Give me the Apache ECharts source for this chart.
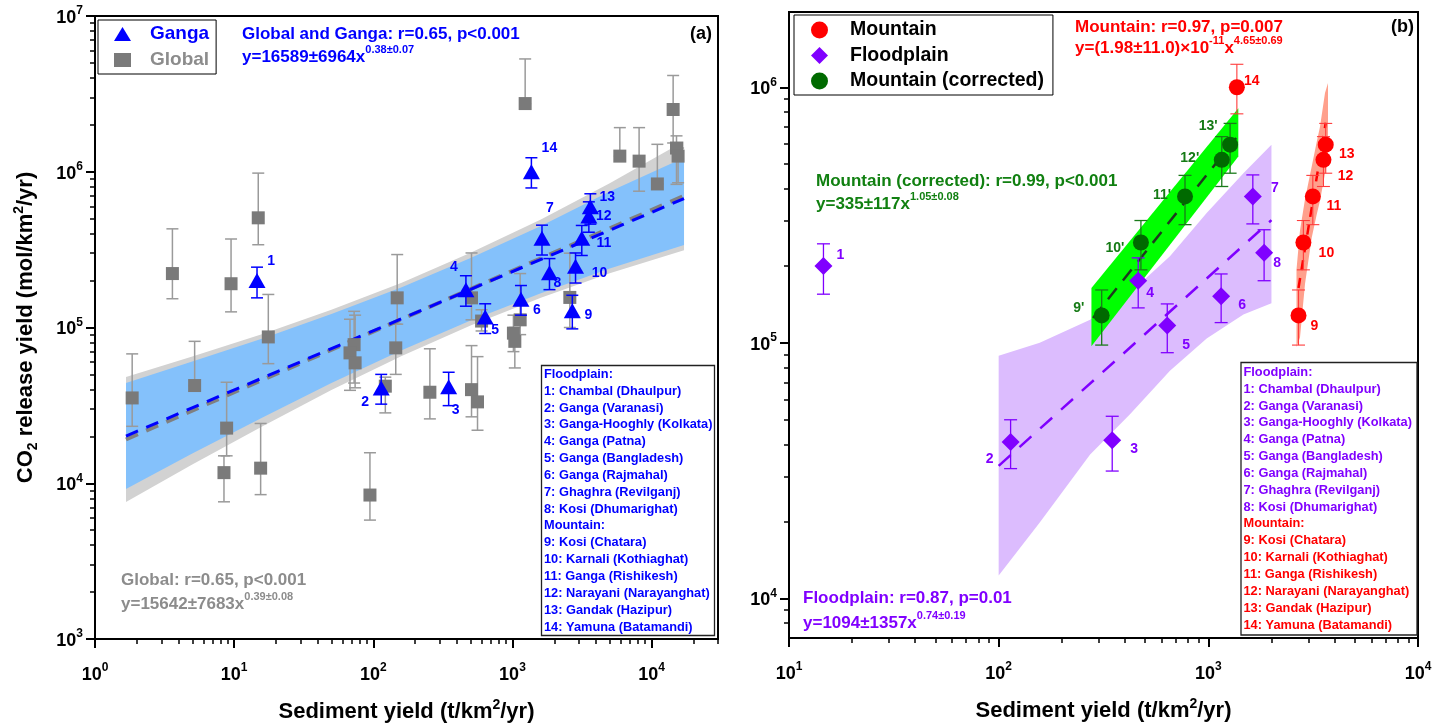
<!DOCTYPE html>
<html>
<head>
<meta charset="utf-8">
<script src="https://cdn.jsdelivr.net/npm/echarts@6/dist/echarts.min.js"></script>
<style>
  html, body { margin: 0; padding: 0; background: #fff; }
  #chart { width: 1450px; height: 727px; }
</style>
</head>
<body>
<div id="chart"></div>
<script>
// ---------------------------------------------------------------
// Ganga basin sites (1-8 floodplain, 9-14 mountain)
// ---------------------------------------------------------------
const siteNo = ['1','2','3','4','5','6','7','8','9','10','11','12','13','14'];
const siteName = ['Chambal (Dhaulpur)','Ganga (Varanasi)','Ganga-Hooghly (Kolkata)','Ganga (Patna)',
  'Ganga (Bangladesh)','Ganga (Rajmahal)','Ghaghra (Revilganj)','Kosi (Dhumarighat)',
  'Kosi (Chatara)','Karnali (Kothiaghat)','Ganga (Rishikesh)','Narayani (Narayanghat)',
  'Gandak (Hazipur)','Yamuna (Batamandi)'];
const gangaSed = [14.6, 114, 348, 463, 637, 1151, 1630, 1845, 2692, 2840, 3150, 3540, 3630, 1368];
const gangaCO2 = [200000, 40900, 41600, 175000, 116800, 152000, 374000, 225000, 128000, 247000, 374000, 520000, 596000, 1000000];
const gangaCO2Low = [155000, 32200, 31500, 137000, 91500, 120000, 292000, 175000, 98000, 193000, 290000, 409000, 461000, 787000];
const gangaCO2High = [244000, 50000, 51600, 215000, 142000, 186000, 454000, 277000, 161000, 301000, 452000, 641000, 722000, 1230000];
// corrected sediment yield for mountain sites 9-13
const correctedNo = ["9'", "10'", "11'", "12'", "13'"];
const correctedSed = [310, 477, 774, 1159, 1270];

// ---------------------------------------------------------------
// Global rivers compilation
// ---------------------------------------------------------------
const globalSed = [1.85, 3.6, 5.2, 8.83, 8.45, 9.5, 14.9, 15.5, 17.6, 72.8, 68, 74, 94.6, 122, 145, 148.5,
  255, 508, 508, 561, 600, 1136, 1016, 1040, 1234, 2584, 5910, 8130, 11000, 14280, 15100, 15500];
const globalCO2 = [35300, 222000, 42400, 22600, 11700, 191000, 506000, 12500, 87000, 77600, 68700, 59300, 8400, 42000, 74000, 155000,
  38400, 155000, 39900, 33300, 110000, 112000, 92000, 81500, 2740000, 156000, 1260000, 1170000, 835000, 2510000, 1420000, 1260000];
const globalCO2Low = [23200, 153000, 42400, 15000, 7600, 126000, 340000, 8450, 58600, 44000, 39500, 41000, 5800, 28300, 50000, 105000,
  25900, 112000, 26700, 21900, 95000, 90000, 70000, 55000, 2740000, 100000, 1260000, 750000, 835000, 1530000, 830000, 850000];
const globalCO2High = [67700, 430000, 81500, 44500, 15000, 370000, 980000, 24200, 163000, 127000, 113000, 120000, 15700, 48000, 105000, 294000,
  73000, 301000, 76500, 65000, 130000, 222000, 120000, 100000, 5300000, 300000, 1920000, 1920000, 1500000, 4150000, 1700000, 1420000];

// Regression fits and confidence bands, panel (a)
const bandXA = [1.67, 5, 16, 50, 160, 500, 1600, 5000, 17100];
const bothUpper = [44000, 60400, 85100, 122000, 181000, 279000, 449000, 746000, 1230000];
const bothLower = [9200, 15500, 26400, 44000, 71400, 111000, 166000, 239000, 339000];
const globalUpper = [48100, 65200, 91000, 130000, 194000, 302000, 494000, 843000, 1570000];
const globalLower = [7590, 13200, 23200, 39700, 65600, 103000, 155000, 223000, 313000];
const fitXA = [1.67, 17100];
const bothFitY = [20100, 673000];
const globalFitY = [19100, 700000];

// Regression fits and confidence bands, panel (b)
const floodBandX = [100, 157, 273, 423, 656, 982, 1470, 2000];
const floodUpper = [89100, 100000, 123000, 157000, 218000, 322000, 461000, 596000];
const floodLower = [12300, 19800, 36600, 52500, 77800, 104000, 129000, 143000];
const floodFitX = [100, 2000];
const floodFitY = [33000, 302000];
const corrBandX = [277, 1390];
const corrUpper = [164000, 828000];
const corrLower = [97000, 536000];
const corrFitX = [282, 1370];
const corrFitY = [125000, 640000];
const mountBandX = [2633, 2736, 2891, 3112, 3288, 3409, 3601, 3722];
const mountUpper = [193000, 275000, 365000, 490000, 610000, 700000, 950000, 1039000];
const mountLower = [96300, 105000, 170000, 258000, 318000, 360000, 460000, 540000];
const mountFitX = [2692, 3630];
const mountFitY = [164000, 726000];

// Axis tick exponents
const expXA = [0, 1, 2, 3, 4];
const expYA = [3, 4, 5, 6, 7];
const expXB = [1, 2, 3, 4];
const expYB = [4, 5, 6];

// ---------------------------------------------------------------
const FONT = '"Liberation Sans", Arial, sans-serif';
const L = v => Math.log10(v);

// where each site number sits relative to its marker
const tagShiftA = [[14,-19],[-16,14],[7,23],[-12,-23],[10,13],[16,11],[8,-30],[8,10],[16,4],[24,7],[22,5],[15,0],[17,-10],[18,-24]];
const tagShiftB = [[17,-11],[-21,17],[22,9],[12,12],[19,20],[21,9],[22,-8],[13,10],[16,11],[23,11],[21,10],[22,16],[21,9],[15,-6]];
const tagShiftC = [[-23,-7],[-26,6],[-23,-1],[-32,-2],[-22,-19]];

const BLUE = '#0000ff', GREY = '#7a7a7a', PURPLE = '#8000ff', RED = '#ff0000', DKGREEN = '#006a00';

function minorTicks(lo, hi) {
  const t = [];
  for (let e = lo; e < hi; e++) for (let m = 2; m <= 9; m++) t.push(e + Math.log10(m));
  return t;
}

const tickRich = {
  b: { fontSize: 18, fontWeight: 'bold', fontFamily: FONT, color: '#000', lineHeight: 22, verticalAlign: 'bottom' },
  s: { fontSize: 12, fontWeight: 'bold', fontFamily: FONT, color: '#000', lineHeight: 12, verticalAlign: 'top' }
};
const nameRich = {
  sub: { fontSize: 14, fontWeight: 'bold', fontFamily: FONT, color: '#000', lineHeight: 14, verticalAlign: 'bottom' },
  sup: { fontSize: 14, fontWeight: 'bold', fontFamily: FONT, color: '#000', lineHeight: 14, verticalAlign: 'top' }
};
const nameStyle = { fontSize: 22, fontWeight: 'bold', fontFamily: FONT, color: '#000', lineHeight: 28, rich: nameRich };

function majorAxis(grid, min, max, exps, labelMargin, extra) {
  return Object.assign({
    gridIndex: grid, type: 'value', min: min, max: max,
    axisLine: { show: true, onZero: false, lineStyle: { color: '#000', width: 2 } },
    axisTick: { show: true, customValues: exps, length: 9, lineStyle: { color: '#000', width: 2 } },
    axisLabel: { show: true, customValues: exps, formatter: v => '{b|10}{s|' + Math.round(v) + '}', rich: tickRich, margin: labelMargin },
    splitLine: { show: false }
  }, extra);
}
function minorAxis(grid, min, max, ticks, position) {
  return {
    gridIndex: grid, type: 'value', min: min, max: max, position: position,
    axisLine: { show: false, onZero: false },
    axisLabel: { show: false },
    axisTick: { show: true, customValues: ticks, length: 5, lineStyle: { color: '#000', width: 1.5 } },
    splitLine: { show: false }
  };
}

function errorBars(name, xs, lows, highs, axis, color, cap, width, z) {
  return {
    name: name, type: 'custom', xAxisIndex: axis, yAxisIndex: axis, z: z, silent: true,
    encode: { x: 0, y: [1, 2] },
    data: xs.map((x, i) => [L(x), L(lows[i]), L(highs[i])]),
    renderItem: (params, api) => {
      const a = api.coord([api.value(0), api.value(1)]);
      const b = api.coord([api.value(0), api.value(2)]);
      const st = { stroke: color, lineWidth: width };
      return { type: 'group', children: [
        { type: 'line', shape: { x1: a[0], y1: a[1], x2: b[0], y2: b[1] }, style: st },
        { type: 'line', shape: { x1: a[0] - cap / 2, y1: a[1], x2: a[0] + cap / 2, y2: a[1] }, style: st },
        { type: 'line', shape: { x1: b[0] - cap / 2, y1: b[1], x2: b[0] + cap / 2, y2: b[1] }, style: st }
      ] };
    }
  };
}

function band(name, xs, lows, highs, axis, fill, z) {
  return {
    name: name, type: 'custom', xAxisIndex: axis, yAxisIndex: axis, z: z, silent: true,
    data: [[L(xs[0]), L(lows[0])]],
    renderItem: (params, api) => {
      const up = xs.map((x, i) => api.coord([L(x), L(highs[i])]));
      const dn = xs.map((x, i) => api.coord([L(x), L(lows[i])])).reverse();
      return { type: 'polygon', shape: { points: up.concat(dn) }, style: { fill: fill } };
    }
  };
}

function fitLine(name, xs, ys, axis, color, width, dash, z) {
  return {
    name: name, type: 'line', xAxisIndex: axis, yAxisIndex: axis, z: z, silent: true,
    symbol: 'none', animation: false,
    data: xs.map((x, i) => [L(x), L(ys[i])]),
    lineStyle: { color: color, width: width, type: dash }
  };
}

function tagLabel(color, names) {
  return { show: true, position: 'inside', color: color, fontSize: 14, fontWeight: 'bold', fontFamily: FONT,
    formatter: p => names[p.dataIndex] };
}

// ---------------------------------------------------------------
// annotation text helpers
function eqText(x, y, rich, color) {
  return { type: 'text', x: x, y: y, silent: true, style: {
    text: rich, fill: color, textAlign: 'left', textVerticalAlign: 'middle', align: 'left', verticalAlign: 'middle',
    rich: {
      b: { fontSize: 17, fontWeight: 'bold', fontFamily: FONT, fill: color, color: color, lineHeight: 22, verticalAlign: 'bottom' },
      s: { fontSize: 11, fontWeight: 'bold', fontFamily: FONT, fill: color, color: color, lineHeight: 13, verticalAlign: 'top' }
    } } };
}
function plainText(x, y, str, color, size, align) {
  return { type: 'text', x: x, y: y, silent: true, style: {
    text: str, fill: color, font: 'bold ' + size + 'px ' + FONT,
    textAlign: align || 'left', align: align || 'left', textVerticalAlign: 'middle', verticalAlign: 'middle' } };
}
// boxed list of site numbers and names, one text row per entry
function nameBox(x, y, w, h, firstRow, floodColor, mountColor) {
  const rows = [['Floodplain:', floodColor]];
  for (let i = 0; i < 8; i++) rows.push([siteNo[i] + ': ' + siteName[i], floodColor]);
  rows.push(['Mountain:', mountColor]);
  for (let i = 8; i < 14; i++) rows.push([siteNo[i] + ': ' + siteName[i], mountColor]);
  const els = [{ type: 'rect', z: 50, silent: true, shape: { x: x, y: y, width: w, height: h },
    style: { fill: '#fff', stroke: '#222', lineWidth: 1.3 } }];
  rows.forEach((r, i) => {
    els.push({ type: 'text', z: 51, silent: true, x: x + 2.5, y: firstRow + i * 16.85, style: {
      text: r[0], fill: r[1], font: 'bold 12.8px ' + FONT,
      textAlign: 'left', align: 'left', textVerticalAlign: 'middle', verticalAlign: 'middle' } });
  });
  return els;
}

// ---------------------------------------------------------------
const floodSed = gangaSed.slice(0, 8), floodCO2 = gangaCO2.slice(0, 8);
const floodLow = gangaCO2Low.slice(0, 8), floodHigh = gangaCO2High.slice(0, 8);
const mountSed = gangaSed.slice(8), mountCO2 = gangaCO2.slice(8);
const mountLow = gangaCO2Low.slice(8), mountHigh = gangaCO2High.slice(8);
const corrCO2 = gangaCO2.slice(8, 13), corrLow = gangaCO2Low.slice(8, 13), corrHigh = gangaCO2High.slice(8, 13);

const xMaxA = L(30000);
const yMinB = L(7000), yMaxB = L(1970000);

const option = {
  animation: false,
  backgroundColor: '#fff',
  grid: [
    { left: 95, top: 16, width: 623, height: 623, outerBoundsMode: 'none', containLabel: false,
      show: true, borderColor: '#000', borderWidth: 2, backgroundColor: 'transparent' },
    { left: 789, top: 12, width: 629, height: 626, outerBoundsMode: 'none', containLabel: false,
      show: true, borderColor: '#000', borderWidth: 2, backgroundColor: 'transparent' }
  ],
  xAxis: [
    majorAxis(0, 0, xMaxA, expXA, 23, { position: 'bottom', name: 'Sediment yield (t/km{sup|2}/yr)', nameLocation: 'middle', nameGap: 59, nameTextStyle: nameStyle }),
    minorAxis(0, 0, xMaxA, minorTicks(0, 4).concat([L(20000), L(30000)]), 'bottom'),
    majorAxis(1, 1, 4, expXB, 23, { position: 'bottom', name: 'Sediment yield (t/km{sup|2}/yr)', nameLocation: 'middle', nameGap: 59, nameTextStyle: nameStyle }),
    minorAxis(1, 1, 4, minorTicks(1, 4), 'bottom')
  ],
  yAxis: [
    majorAxis(0, 3, 7, expYA, 12, { position: 'left', name: 'CO{sub|2} release yield (mol/km{sup|2}/yr)', nameLocation: 'middle', nameGap: 55, nameTextStyle: nameStyle }),
    minorAxis(0, 3, 7, minorTicks(3, 7), 'left'),
    majorAxis(1, yMinB, yMaxB, expYB, 12, { position: 'left' }),
    minorAxis(1, yMinB, yMaxB, [L(8000), L(9000)].concat(minorTicks(4, 6)), 'left')
  ],
  legend: [
    {
      data: [
        { name: 'Ganga', icon: 'triangle', textStyle: { color: BLUE } },
        { name: 'Global', icon: 'rect', textStyle: { color: '#8c8c8c' } }
      ],
      orient: 'vertical', left: 98, top: 20, padding: [4, 7, 4, 16], itemGap: 6,
      itemWidth: 17, itemHeight: 14, borderColor: '#000', borderWidth: 1, selectedMode: false,
      textStyle: { fontSize: 19, fontWeight: 'bold', fontFamily: FONT, lineHeight: 20, padding: [0, 0, 0, 14] }
    },
    {
      data: ['Mountain', 'Floodplain', 'Mountain (corrected)'],
      orient: 'vertical', left: 794, top: 15, padding: [5, 9, 4, 17], itemGap: 5.5,
      itemWidth: 17, itemHeight: 17, borderColor: '#000', borderWidth: 1, selectedMode: false,
      textStyle: { fontSize: 19.5, fontWeight: 'bold', fontFamily: FONT, color: '#000', lineHeight: 20, padding: [0, 0, 0, 17] }
    }
  ],
  series: [
    // ---- panel (a)
    band('Global band', bandXA, globalLower, globalUpper, 0, '#d2d2d2', 1),
    band('Global and Ganga band', bandXA, bothLower, bothUpper, 0, '#84c1fb', 2),
    errorBars('Global error', globalSed, globalCO2Low, globalCO2High, 0, '#9a9a9a', 12, 1.5, 3),
    fitLine('Global fit', fitXA, globalFitY, 0, '#808080', 4, [13, 9], 4),
    fitLine('Global and Ganga fit', fitXA, bothFitY, 0, BLUE, 3, [13, 9], 5),
    { name: 'Global', type: 'scatter', xAxisIndex: 0, yAxisIndex: 0, z: 6, symbol: 'rect', symbolSize: 13,
      itemStyle: { color: GREY, opacity: 1 }, emphasis: { disabled: true },
      data: globalSed.map((x, i) => [L(x), L(globalCO2[i])]) },
    errorBars('Ganga error', gangaSed, gangaCO2Low, gangaCO2High, 0, BLUE, 12, 1.5, 7),
    { name: 'Ganga', type: 'scatter', xAxisIndex: 0, yAxisIndex: 0, z: 8, symbol: 'triangle', symbolSize: [17, 15],
      itemStyle: { color: BLUE, opacity: 1 }, emphasis: { disabled: true }, label: tagLabel(BLUE, siteNo),
      data: gangaSed.map((x, i) => ({ value: [L(x), L(gangaCO2[i])], label: { offset: tagShiftA[i] } })) },

    // ---- panel (b)
    band('Floodplain band', floodBandX, floodLower, floodUpper, 2, '#dcbcfe', 1),
    band('Mountain (corrected) band', corrBandX, corrLower, corrUpper, 2, '#00ff00', 2),
    band('Mountain band', mountBandX, mountLower, mountUpper, 2, '#ffa08c', 2),
    fitLine('Floodplain fit', floodFitX, floodFitY, 2, PURPLE, 2.5, [16, 12], 3),
    fitLine('Mountain (corrected) fit', corrFitX, corrFitY, 2, '#1e3a1e', 2.5, [14, 10], 3),
    fitLine('Mountain fit', mountFitX, mountFitY, 2, RED, 2.5, [10, 8], 3),
    errorBars('Floodplain error', floodSed, floodLow, floodHigh, 2, PURPLE, 13, 1.3, 4),
    errorBars('Mountain error', mountSed, mountLow, mountHigh, 2, '#ff3b3b', 13, 1.1, 4),
    errorBars('Mountain (corrected) error', correctedSed, corrLow, corrHigh, 2, '#1a7a1a', 13, 1.3, 4),
    { name: 'Floodplain', type: 'scatter', xAxisIndex: 2, yAxisIndex: 2, z: 6, symbol: 'diamond', symbolSize: 18,
      itemStyle: { color: PURPLE, opacity: 1 }, emphasis: { disabled: true }, label: tagLabel(PURPLE, siteNo.slice(0, 8)),
      data: floodSed.map((x, i) => ({ value: [L(x), L(floodCO2[i])], label: { offset: tagShiftB[i] } })) },
    { name: 'Mountain', type: 'scatter', xAxisIndex: 2, yAxisIndex: 2, z: 6, symbol: 'circle', symbolSize: 16,
      itemStyle: { color: RED, opacity: 1 }, emphasis: { disabled: true }, label: tagLabel(RED, siteNo.slice(8)),
      data: mountSed.map((x, i) => ({ value: [L(x), L(mountCO2[i])], label: { offset: tagShiftB[i + 8] } })) },
    { name: 'Mountain (corrected)', type: 'scatter', xAxisIndex: 2, yAxisIndex: 2, z: 6, symbol: 'circle', symbolSize: 16,
      itemStyle: { color: DKGREEN, opacity: 1 }, emphasis: { disabled: true }, label: tagLabel('#157a15', correctedNo),
      data: correctedSed.map((x, i) => ({ value: [L(x), L(corrCO2[i])], label: { offset: tagShiftC[i] } })) }
  ],
  graphic: [
    plainText(242, 34, 'Global and Ganga: r=0.65, p<0.001', BLUE, 17),
    eqText(242, 55, '{b|y=16589±6964x}{s|0.38±0.07}', BLUE),
    plainText(712, 34, '(a)', '#000', 18, 'right'),
    plainText(121, 580, 'Global: r=0.65, p<0.001', '#8c8c8c', 17),
    eqText(121, 602, '{b|y=15642±7683x}{s|0.39±0.08}', '#8c8c8c'),
    ...nameBox(541.5, 365.5, 173, 270, 374.3, BLUE, BLUE),

    plainText(1075, 27, 'Mountain: r=0.97, p=0.007', RED, 17),
    eqText(1075, 46, '{b|y=(1.98±11.0)×10}{s|-11}{b|x}{s|4.65±0.69}', RED),
    plainText(1414, 27, '(b)', '#000', 18, 'right'),
    plainText(816, 181, 'Mountain (corrected): r=0.99, p<0.001', '#118011', 17),
    eqText(816, 202, '{b|y=335±117x}{s|1.05±0.08}', '#118011'),
    plainText(803, 598, 'Floodplain: r=0.87, p=0.01', PURPLE, 17),
    eqText(803, 621, '{b|y=1094±1357x}{s|0.74±0.19}', PURPLE),
    ...nameBox(1241, 362.5, 176, 272.5, 372.3, PURPLE, RED)
  ]
};

const chart = echarts.init(document.getElementById('chart'), null, { renderer: 'canvas' });
chart.setOption(option);
</script>
</body>
</html>
